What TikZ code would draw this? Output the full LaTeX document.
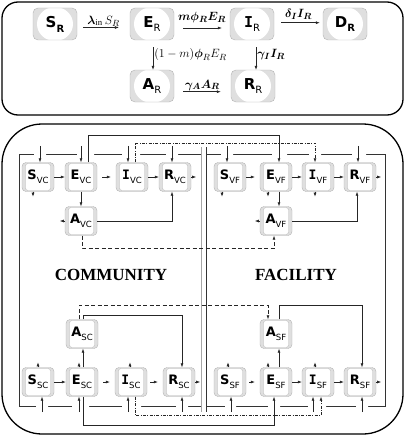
\documentclass[tikz,border=0pt]{standalone}
\usepackage{fontspec}
\usepackage{amsmath}
\setmainfont{Liberation Serif}
\newfontfamily\boxfont{DejaVu Sans}
\newfontfamily\ifont{DejaVu Sans Mono}
\usetikzlibrary{arrows.meta,positioning}

\newcommand{\topc}[2]{\textbf{#1}\raisebox{-0.6ex}{\fontsize{10}{10}\selectfont #2}}
\newcommand{\botc}[2]{\textbf{#1}\raisebox{-0.6ex}{\fontsize{8.5}{9}\selectfont #2}}
\newcommand{\Ic}{{\ifont\bfseries I}}

\begin{document}
\begin{tikzpicture}[
		x=1pt, y=-1pt,
		rbox/.style = {draw=gray!60, fill=gray!25, rounded corners=5pt, minimum width=44pt, minimum height=32pt, inner sep=0pt,
			font=\boxfont\fontsize{15}{16}\selectfont,
			path picture={\fill[white] (path picture bounding box.center) ellipse (18pt and 17pt);}},
		cbox/.style = {draw=gray!60, fill=gray!25, rounded corners=4pt, minimum width=32pt, minimum height=29pt, inner sep=0pt,
			font=\boxfont\fontsize{13}{14}\selectfont,
			path picture={\draw[gray!55, fill=white, rounded corners=2.5pt] ([xshift=3.5pt,yshift=-1pt]path picture bounding box.north west) rectangle ([xshift=-3.5pt,yshift=1pt]path picture bounding box.south east);}},
		flow/.style = {draw=black!85, line width=0.6pt, -{Latex[length=4pt,width=3pt]}},
		dashflow/.style = {flow, dash pattern=on 4pt off 2.5pt},
		dotflow/.style = {flow, dash pattern=on 3pt off 1.5pt on 0.6pt off 1.5pt},
		frame/.style = {draw=black!80, line width=0.6pt},
		lbl/.style = {font=\fontsize{12.5}{14}\selectfont, inner sep=1pt}
	]
	\useasboundingbox (0,0) rectangle (405,436);

	% resident panel
	\draw[line width=1.3pt, rounded corners=16pt] (2,2) rectangle (403,115);
	\node[rbox] (SR) at (55,24) {\topc{S}{\bfseries R}};
	\node[rbox] (ER) [right of=SR, node distance=97pt] {\topc{E}{R}};
	\node[rbox] (IR) [right of=ER, node distance=100pt] {\topc{\Ic}{R}};
	\node[rbox] (DR) [right of=IR, node distance=93pt] {\topc{D}{\bfseries R}};
	\node[rbox] (AR) [below of=ER, node distance=62pt] {\topc{A}{R}};
	\node[rbox] (RR) [right of=AR, node distance=101pt] {\topc{R}{R}};
	\draw[flow, shorten <=6pt, shorten >=11pt] ([yshift=-3.5pt]SR.east) -- node[lbl, above] {$\boldsymbol{\lambda}_{\mathrm{in}}\,S_R$} ([yshift=-3.5pt]ER.west);
	\draw[flow, shorten <=9pt, shorten >=8pt] ([yshift=-4pt]ER.east) -- node[lbl, above=4pt] {$\boldsymbol{m\phi_R E_R}$} ([yshift=-4pt]IR.west);
	\draw[flow, shorten <=7pt, shorten >=3pt] ([yshift=1.3pt]IR.east) -- node[lbl, above=2pt] {$\boldsymbol{\delta_I I_R}$} ([yshift=1.3pt]DR.west);
	\draw[flow, shorten <=7pt] ([xshift=1pt]ER.south) -- node[lbl, right] {$(1-m)\boldsymbol{\phi}_R E_R$} ([xshift=1pt]ER.south |- AR.north);
	\draw[flow, shorten <=7pt] ([xshift=4pt]IR.south) -- node[lbl, right] {$\boldsymbol{\gamma_I I_R}$} ([xshift=4pt]IR.south |- RR.north);
	\draw[flow, shorten <=9pt, shorten >=10pt] ([yshift=-5.7pt]AR.east) -- node[lbl, above] {$\boldsymbol{\gamma_A A_R}$} ([yshift=-5.7pt]RR.west);

	% community / facility panel
	\draw[line width=1.3pt, rounded corners=40pt] (2,124) rectangle (403,434);
	\draw[frame] (19,154) rectangle (201.5,406);
	\draw[frame] (206,154) rectangle (385,406);
	\draw[gray!70, line width=1.5pt] (201.5,147) -- (201.5,412);
	\draw[frame] (206,147) -- (206,412);
	\fill[white] (34,151) rectangle (46,157) (77,151) rectangle (94,157) (122,151) rectangle (140,157) (166,151) rectangle (178,157)
		(221,151) rectangle (233,157) (272,151) rectangle (287,157) (309,151) rectangle (321,157) (352,151) rectangle (366,157);
	\fill[white] (36,403) rectangle (48,409) (72,403) rectangle (89,409) (122,403) rectangle (141,409) (176,403) rectangle (188,409)
		(225,403) rectangle (236,409) (268,403) rectangle (280,409) (308,403) rectangle (326,409) (356,403) rectangle (368,409);

	\node[font=\bfseries\fontsize{17}{18}\selectfont] (comm) at (111,275) {COMMUNITY};
	\node[font=\bfseries\fontsize{17}{18}\selectfont] (faci) at (296,275) {FACILITY};

	\node[cbox] (SVC) at (38,177) {\botc{S}{VC}};
	\node[cbox] (EVC) [right of=SVC, node distance=43pt] {\botc{E}{VC}};
	\node[cbox] (IVC) [right of=EVC, node distance=51pt] {\botc{\Ic}{VC}};
	\node[cbox] (RVC) [right of=IVC, node distance=43pt] {\botc{R}{VC}};
	\node[cbox] (AVC) [below of=EVC, node distance=44pt] {\botc{A}{VC}};

	\node[cbox] (SVF) at (230,177) {\botc{S}{VF}};
	\node[cbox] (EVF) [right of=SVF, node distance=46pt] {\botc{E}{VF}};
	\node[cbox] (IVF) [right of=EVF, node distance=42pt] {\botc{\Ic}{VF}};
	\node[cbox] (RVF) [right of=IVF, node distance=42pt] {\botc{R}{VF}};
	\node[cbox] (AVF) [below of=EVF, node distance=44pt] {\botc{A}{VF}};

	\node[cbox] (SSC) at (38,382) {\botc{S}{SC}};
	\node[cbox] (ESC) [right of=SSC, node distance=44pt] {\botc{E}{SC}};
	\node[cbox] (ISC) [right of=ESC, node distance=49pt] {\botc{\Ic}{SC}};
	\node[cbox] (RSC) [right of=ISC, node distance=48pt] {\botc{R}{SC}};
	\node[cbox] (ASC) [above of=ESC, node distance=48pt] {\botc{A}{SC}};

	\node[cbox] (SSF) at (230,382) {\botc{S}{SF}};
	\node[cbox] (ESF) [right of=SSF, node distance=46pt] {\botc{E}{SF}};
	\node[cbox] (ISF) [right of=ESF, node distance=42pt] {\botc{\Ic}{SF}};
	\node[cbox] (RSF) [right of=ISF, node distance=42pt] {\botc{R}{SF}};
	\node[cbox] (ASF) [above of=ESF, node distance=48pt] {\botc{A}{SF}};

	% visitors
	\draw[flow] (SVC) -- (EVC);
	\draw[flow, shorten <=5pt, shorten >=5pt] (EVC) -- (IVC);
	\draw[flow] (IVC) -- (RVC);
	\draw[flow, shorten >=5pt] (SVF) -- (EVF);
	\draw[flow] (EVF) -- (IVF);
	\draw[flow] (IVF) -- (RVF);
	\draw[flow] (EVC.south) -- (EVC.south |- AVC.north);
	\draw[flow] ([xshift=3pt]EVF.south) -- ([xshift=3pt]EVF.south |- AVF.north);
	\draw[flow] (AVC.east) -| ([xshift=-3pt]RVC.south);
	\draw[flow] (AVF.east) -| ([xshift=-3pt]RVF.south);
	\draw[flow] ([xshift=7pt]EVC.north) -- ++(0,-27.5) -| ([xshift=3pt]EVF.north);
	\draw[dotflow] ([xshift=3pt]IVC.north) -- ++(0,-19.5) -| ([xshift=-3pt]IVF.north);
	\draw[dashflow] ([xshift=1pt]AVC.south) -- ++(0,13) -| ([xshift=-2pt]AVF.south);
	\draw[flow] ([xshift=2pt,yshift=16.5pt]SVC.north) -- ([xshift=2pt]SVC.north);
	\draw[flow] ([yshift=16.5pt]EVC.north) -- (EVC.north);
	\draw[flow] ([xshift=-4pt,yshift=16.5pt]IVC.north) -- ([xshift=-4pt]IVC.north);
	\draw[flow] ([xshift=-3pt,yshift=16.5pt]RVC.north) -- ([xshift=-3pt]RVC.north);
	\draw[flow] ([xshift=-3pt,yshift=16.5pt]SVF.north) -- ([xshift=-3pt]SVF.north);
	\draw[flow] ([xshift=-2pt,yshift=16.5pt]RVF.north) -- ([xshift=-2pt]RVF.north);
	\draw[flow] ([xshift=-5pt]SVC.south) -- ++(0,5);
	\draw[flow] ([xshift=-8pt]SVF.south) -- ++(0,5);
	\draw[flow] ([xshift=-8pt]EVF.south) -- ++(0,5);
	\draw[flow] ([xshift=-3pt]IVF.south) -- ++(0,5);
	\draw[flow] (RVC.east) -- ++(5,0);
	\draw[flow] (RVF.east) -- ++(5,0);
	\draw[flow] (AVC.west) -- ++(-5,0);
	\draw[flow] (AVF.west) -- ++(-5,0);

	% staff
	\draw[flow] (SSC) -- (ESC);
	\draw[flow, shorten <=5pt, shorten >=5pt] (ESC) -- (ISC);
	\draw[flow, shorten <=3pt, shorten >=5pt] (ISC) -- (RSC);
	\draw[flow, shorten <=3pt, shorten >=5pt] (SSF) -- (ESF);
	\draw[flow] (ESF) -- (ISF);
	\draw[flow] (ISF) -- (RSF);
	\draw[flow] ([xshift=1pt]ESC.north) -- ([xshift=1pt]ESC.north |- ASC.south);
	\draw[flow] ([xshift=3pt]ESF.north) -- ([xshift=3pt]ESF.north |- ASF.south);
	\draw[flow] ([xshift=1pt]ASC.north) -- ++(0,-4) -| ([xshift=3pt]RSC.north);
	\draw[flow] ([xshift=3pt]ASF.north) -- ++(0,-14) -| ([xshift=2pt]RSF.north);
	\draw[flow] ([xshift=1pt]ESC.south) -- ++(0,28.5) -| ([xshift=-2pt]ESF.south);
	\draw[dotflow] ([xshift=4pt]ISC.south) -- ++(0,18.5) -| ([xshift=3pt]ISF.south);
	\draw[dashflow] ([xshift=-3pt]ASC.north) -- ++(0,-14) -| ([xshift=-8pt]ASF.north);
	\draw[flow] ([xshift=4pt,yshift=-15.5pt]SSC.south) -- ([xshift=4pt]SSC.south);
	\draw[flow] ([xshift=-3pt,yshift=-15.5pt]ESC.south) -- ([xshift=-3pt]ESC.south);
	\draw[flow] ([xshift=-3pt,yshift=-15.5pt]ISC.south) -- ([xshift=-3pt]ISC.south);
	\draw[flow] ([xshift=3pt,yshift=-15.5pt]RSC.south) -- ([xshift=3pt]RSC.south);
	\draw[flow] ([xshift=1pt,yshift=-15.5pt]SSF.south) -- ([xshift=1pt]SSF.south);
	\draw[flow] ([xshift=-5pt,yshift=-15.5pt]ISF.south) -- ([xshift=-5pt]ISF.south);
	\draw[flow] ([xshift=2pt,yshift=-15.5pt]RSF.south) -- ([xshift=2pt]RSF.south);
	\draw[flow] (SSC.north) -- ++(0,-5);
	\draw[flow] ([xshift=-3pt]ESC.north) -- ++(0,-5);
	\draw[flow] ([xshift=-1pt]ISC.north) -- ++(0,-5);
	\draw[flow] ([xshift=-2pt]SSF.north) -- ++(0,-5);
	\draw[flow] ([xshift=-8pt]ESF.north) -- ++(0,-5);
	\draw[flow] ([xshift=-3pt]ISF.north) -- ++(0,-5);
	\draw[flow] (RSC.east) -- ++(5,0);
	\draw[flow] (RSF.east) -- ++(5,0);
\end{tikzpicture}
\end{document}
